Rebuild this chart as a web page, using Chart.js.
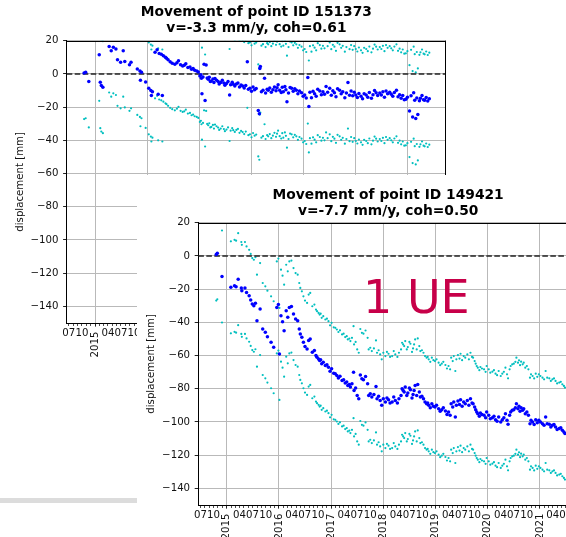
<!DOCTYPE html>
<html>
<head>
<meta charset="utf-8">
<script src="https://cdn.jsdelivr.net/npm/chart.js@4.4.1/dist/chart.umd.min.js"></script>
<style>
  html, body { margin: 0; padding: 0; background: #fff; }
  body { width: 566px; height: 537px; overflow: hidden; position: relative; }
  #box1 { position: absolute; left: 0; top: 0; width: 512px; height: 362px; }
  #scroll1 { position: absolute; left: 0; top: 498px; width: 137px; height: 5px; background: #dcdcdc; }
  #box2 { position: absolute; left: 137px; top: 175px; width: 460px; height: 362px; background: #fff; }
</style>
</head>
<body>
<div id="box1"><canvas id="chart1" width="512" height="362"></canvas></div>
<div id="scroll1"></div>
<div id="box2"><canvas id="chart2" width="460" height="362"></canvas></div>
<script>
/* Two InSAR displacement plots, the second one pasted over the first */

// --- point 151373 ---
const dates1 = [
  2014.79, 2014.82, 2014.88, 2015.08, 2015.10, 2015.12, 2015.15, 2015.27, 2015.31, 2015.35,
  2015.40, 2015.43, 2015.49, 2015.54, 2015.57, 2015.66, 2015.69, 2015.81, 2015.86, 2015.87,
  2015.89, 2015.97, 2016.03, 2016.07, 2016.08, 2016.10, 2016.15, 2016.19, 2016.21, 2016.23,
  2016.27, 2016.29, 2016.31, 2016.35, 2016.37, 2016.40, 2016.44, 2016.48, 2016.53, 2016.57,
  2016.60, 2016.64, 2016.68, 2016.71, 2016.74, 2016.78, 2016.82, 2016.85, 2016.88, 2016.91,
  2016.95, 2016.98, 2017.01, 2017.03, 2017.04, 2017.05, 2017.07, 2017.09, 2017.11, 2017.13,
  2017.15, 2017.17, 2017.19, 2017.21, 2017.23, 2017.26, 2017.28, 2017.30, 2017.33, 2017.36,
  2017.38, 2017.41, 2017.44, 2017.47, 2017.49, 2017.52, 2017.55, 2017.58, 2017.60, 2017.63,
  2017.65, 2017.68, 2017.71, 2017.74, 2017.77, 2017.80, 2017.83, 2017.86, 2017.89, 2017.92,
  2017.94, 2017.97, 2018.00, 2018.03, 2018.06, 2018.09, 2018.13, 2018.15, 2018.16, 2018.17,
  2018.19, 2018.22, 2018.25, 2018.27, 2018.30, 2018.32, 2018.35, 2018.38, 2018.41, 2018.44,
  2018.47, 2018.49, 2018.51, 2018.54, 2018.57, 2018.59, 2018.61, 2018.64, 2018.66, 2018.68,
  2018.71, 2018.74, 2018.77, 2018.80, 2018.83, 2018.86, 2018.89, 2018.92, 2018.96, 2018.99,
  2019.02, 2019.05, 2019.08, 2019.10, 2019.12, 2019.15, 2019.18, 2019.21, 2019.24, 2019.27,
  2019.31, 2019.34, 2019.37, 2019.40, 2019.43, 2019.46, 2019.50, 2019.53, 2019.56, 2019.59,
  2019.62, 2019.65, 2019.69, 2019.72, 2019.75, 2019.79, 2019.82, 2019.85, 2019.88, 2019.91,
  2019.94, 2019.97, 2020.00, 2020.03, 2020.06, 2020.10, 2020.13, 2020.16, 2020.20, 2020.23,
  2020.26, 2020.30, 2020.33, 2020.36, 2020.39, 2020.42, 2020.46, 2020.49, 2020.52, 2020.55,
  2020.58, 2020.61, 2020.65, 2020.68, 2020.71, 2020.74, 2020.78, 2020.81, 2020.84, 2020.87,
  2020.90, 2020.93, 2020.96, 2020.99, 2021.03, 2021.06, 2021.09, 2021.11, 2021.13, 2021.15,
  2021.17, 2021.19, 2021.22, 2021.24, 2021.27, 2021.30, 2021.32, 2021.35, 2021.38, 2021.41
];
const disp1 = [
  0.5, 1.0, -4.5, 11.5, -5.0, -7.0, -8.0, 16.5, 14.0, 16.0,
  15.0, 8.5, 7.0, 14.0, 7.5, 5.5, 7.0, 3.0, 1.8, -3.8,
  1.0, -4.8, -8.7, -10.0, -13.0, -10.7, 13.0, 14.5, -12.3, 12.3,
  11.8, -13.0, 11.0, 10.0, 9.5, 8.5, 7.3, 6.5, 5.8, 6.8,
  7.9, 5.5, 4.8, 5.2, 6.2, 3.8, 4.2, 2.8, 3.2, 2.2,
  1.8, 1.2, -1.2, -0.5, -2.6, -11.9, -1.8, 5.8, -16.0, 5.4,
  -2.4, -3.2, -2.0, -4.5, -4.2, -3.0, -5.2, -2.8, -3.8, -4.6,
  -6.0, -5.2, -3.8, -5.5, -6.8, -5.8, -4.5, -12.7, -6.5, -5.0,
  -6.2, -7.2, -6.0, -5.4, -7.8, -6.6, -7.3, -8.5, -7.0, 7.3,
  -9.2, -8.7, -10.5, -7.9, -9.5, -8.8, -22.0, -24.0, 3.2, 4.4,
  -10.7, -9.8, -2.6, -11.5, -9.2, -9.9, -8.5, -11.0, -9.5, -7.8,
  -10.2, -8.3, -6.5, -9.8, -11.2, -8.0, -10.7, -7.5, -9.6, -16.7,
  -11.5, -8.2, -8.7, -10.5, -9.0, -9.9, -12.0, -10.3, -11.3, -13.5,
  -12.7, -14.5, -2.2, -19.6, -11.0, -14.3, -10.5, -11.9, -13.5, -9.2,
  -10.3, -12.5, -10.8, -12.3, -7.5, -11.0, -8.7, -12.8, -10.2, -11.3,
  -13.8, -9.0, -9.9, -12.0, -10.8, -14.3, -11.5, -5.2, -12.8, -10.3,
  -13.2, -11.0, -12.7, -14.2, -11.8, -13.5, -15.0, -12.0, -12.7, -14.0,
  -11.2, -14.7, -12.5, -10.0, -11.3, -13.0, -11.5, -12.7, -10.8, -14.0,
  -10.3, -12.0, -11.0, -12.3, -13.5, -11.2, -9.9, -13.8, -12.5, -14.7,
  -13.0, -15.5, -15.3, -14.0, -22.4, -13.2, -26.0, -11.3, -15.8, -26.8,
  -14.5, -24.4, -16.2, -14.7, -13.0, -15.5, -15.9, -14.2, -16.3, -14.9
];
const upper1 = [
  28.2, 28.7, 23.2, 39.2, 22.7, 20.7, 19.7, 44.2, 41.7, 43.7,
  42.7, 36.2, 34.7, 41.7, 35.2, 33.2, 34.7, 30.7, 29.5, 23.9,
  28.7, 22.9, 19.0, 17.7, 14.7, 17.0, 40.7, 42.2, 15.4, 40.0,
  39.5, 14.7, 38.7, 37.7, 37.2, 36.2, 35.0, 34.2, 33.5, 34.5,
  35.6, 33.2, 32.5, 32.9, 33.9, 31.5, 31.9, 30.5, 30.9, 29.9,
  29.5, 28.9, 26.5, 27.2, 25.1, 15.8, 25.9, 33.5, 11.7, 33.1,
  25.3, 24.5, 25.7, 23.2, 23.5, 24.7, 22.5, 24.9, 23.9, 23.1,
  21.7, 22.5, 23.9, 22.2, 20.9, 21.9, 23.2, 15.0, 21.2, 22.7,
  21.5, 20.5, 21.7, 22.3, 19.9, 21.1, 20.4, 19.2, 20.7, 35.0,
  18.5, 19.0, 17.2, 19.8, 18.2, 18.9, 5.7, 3.7, 30.9, 32.1,
  17.0, 17.9, 25.1, 16.2, 18.5, 17.8, 19.2, 16.7, 18.2, 19.9,
  17.5, 19.4, 21.2, 17.9, 16.5, 19.7, 17.0, 20.2, 18.1, 11.0,
  16.2, 19.5, 19.0, 17.2, 18.7, 17.8, 15.7, 17.4, 16.4, 14.2,
  15.0, 13.2, 25.5, 8.1, 16.7, 13.4, 17.2, 15.8, 14.2, 18.5,
  17.4, 15.2, 16.9, 15.4, 20.2, 16.7, 19.0, 14.9, 17.5, 16.4,
  13.9, 18.7, 17.8, 15.7, 16.9, 13.4, 16.2, 22.5, 14.9, 17.4,
  14.5, 16.7, 15.0, 13.5, 15.9, 14.2, 12.7, 15.7, 15.0, 13.7,
  16.5, 13.0, 15.2, 17.7, 16.4, 14.7, 16.2, 15.0, 16.9, 13.7,
  17.4, 15.7, 16.7, 15.4, 14.2, 16.5, 17.8, 13.9, 15.2, 13.0,
  14.7, 12.2, 12.4, 13.7, 5.3, 14.5, 1.7, 16.4, 11.9, 0.9,
  13.2, 3.3, 11.5, 13.0, 14.7, 12.2, 11.8, 13.5, 11.4, 12.8
];
const lower1 = [
  -27.2, -26.7, -32.2, -16.2, -32.7, -34.7, -35.7, -11.2, -13.7, -11.7,
  -12.7, -19.2, -20.7, -13.7, -20.2, -22.2, -20.7, -24.7, -25.9, -31.5,
  -26.7, -32.5, -36.4, -37.7, -40.7, -38.4, -14.7, -13.2, -40.0, -15.4,
  -15.9, -40.7, -16.7, -17.7, -18.2, -19.2, -20.4, -21.2, -21.9, -20.9,
  -19.8, -22.2, -22.9, -22.5, -21.5, -23.9, -23.5, -24.9, -24.5, -25.5,
  -25.9, -26.5, -28.9, -28.2, -30.3, -39.6, -29.5, -21.9, -43.7, -22.3,
  -30.1, -30.9, -29.7, -32.2, -31.9, -30.7, -32.9, -30.5, -31.5, -32.3,
  -33.7, -32.9, -31.5, -33.2, -34.5, -33.5, -32.2, -40.4, -34.2, -32.7,
  -33.9, -34.9, -33.7, -33.1, -35.5, -34.3, -35.0, -36.2, -34.7, -20.4,
  -36.9, -36.4, -38.2, -35.6, -37.2, -36.5, -49.7, -51.7, -24.5, -23.3,
  -38.4, -37.5, -30.3, -39.2, -36.9, -37.6, -36.2, -38.7, -37.2, -35.5,
  -37.9, -36.0, -34.2, -37.5, -38.9, -35.7, -38.4, -35.2, -37.3, -44.4,
  -39.2, -35.9, -36.4, -38.2, -36.7, -37.6, -39.7, -38.0, -39.0, -41.2,
  -40.4, -42.2, -29.9, -47.3, -38.7, -42.0, -38.2, -39.6, -41.2, -36.9,
  -38.0, -40.2, -38.5, -40.0, -35.2, -38.7, -36.4, -40.5, -37.9, -39.0,
  -41.5, -36.7, -37.6, -39.7, -38.5, -42.0, -39.2, -32.9, -40.5, -38.0,
  -40.9, -38.7, -40.4, -41.9, -39.5, -41.2, -42.7, -39.7, -40.4, -41.7,
  -38.9, -42.4, -40.2, -37.7, -39.0, -40.7, -39.2, -40.4, -38.5, -41.7,
  -38.0, -39.7, -38.7, -40.0, -41.2, -38.9, -37.6, -41.5, -40.2, -42.4,
  -40.7, -43.2, -43.0, -41.7, -50.1, -40.9, -53.7, -39.0, -43.5, -54.5,
  -42.2, -52.1, -43.9, -42.4, -40.7, -43.2, -43.6, -41.9, -44.0, -42.6
];

// --- point 149421 ---
const dates2 = [
  2014.80, 2014.82, 2014.91, 2015.08, 2015.15, 2015.18, 2015.22, 2015.28, 2015.29, 2015.35,
  2015.38, 2015.43, 2015.46, 2015.49, 2015.52, 2015.55, 2015.58, 2015.64, 2015.69, 2015.74,
  2015.78, 2015.85, 2015.90, 2015.96, 2015.99, 2016.01, 2016.04, 2016.07, 2016.10, 2016.14,
  2016.17, 2016.20, 2016.24, 2016.28, 2016.32, 2016.36, 2016.39, 2016.41, 2016.44, 2016.47,
  2016.50, 2016.54, 2016.57, 2016.60, 2016.64, 2016.68, 2016.71, 2016.73, 2016.76, 2016.78,
  2016.80, 2016.82, 2016.85, 2016.89, 2016.92, 2016.95, 2016.98, 2017.01, 2017.05, 2017.08,
  2017.11, 2017.14, 2017.17, 2017.21, 2017.24, 2017.27, 2017.30, 2017.32, 2017.35, 2017.37,
  2017.40, 2017.43, 2017.44, 2017.47, 2017.50, 2017.53, 2017.56, 2017.59, 2017.62, 2017.66,
  2017.70, 2017.72, 2017.75, 2017.78, 2017.82, 2017.86, 2017.88, 2017.91, 2017.94, 2017.97,
  2018.00, 2018.04, 2018.07, 2018.10, 2018.13, 2018.17, 2018.20, 2018.23, 2018.27, 2018.30,
  2018.34, 2018.36, 2018.38, 2018.40, 2018.42, 2018.45, 2018.47, 2018.50, 2018.52, 2018.55,
  2018.57, 2018.59, 2018.61, 2018.64, 2018.66, 2018.69, 2018.71, 2018.74, 2018.77, 2018.80,
  2018.83, 2018.85, 2018.87, 2018.90, 2018.93, 2018.96, 2018.99, 2019.02, 2019.06, 2019.09,
  2019.12, 2019.15, 2019.19, 2019.22, 2019.25, 2019.28, 2019.30, 2019.33, 2019.35, 2019.38,
  2019.40, 2019.43, 2019.46, 2019.48, 2019.51, 2019.54, 2019.57, 2019.61, 2019.64, 2019.67,
  2019.70, 2019.72, 2019.75, 2019.77, 2019.79, 2019.81, 2019.84, 2019.86, 2019.89, 2019.93,
  2019.96, 2019.98, 2020.02, 2020.05, 2020.09, 2020.12, 2020.15, 2020.18, 2020.21, 2020.25,
  2020.28, 2020.31, 2020.34, 2020.37, 2020.39, 2020.42, 2020.44, 2020.47, 2020.50, 2020.53,
  2020.55, 2020.58, 2020.60, 2020.62, 2020.64, 2020.67, 2020.69, 2020.72, 2020.75, 2020.78,
  2020.81, 2020.83, 2020.86, 2020.89, 2020.92, 2020.95, 2020.98, 2021.01, 2021.05, 2021.08,
  2021.11, 2021.14, 2021.18, 2021.21, 2021.24, 2021.27, 2021.30, 2021.33, 2021.37, 2021.40,
  2021.43, 2021.46, 2021.48
];
const disp2 = [
  0.8, 1.6, -12.4, -18.9, -18.0, -18.5, -14.0, -19.3, -21.0, -19.3,
  -22.0, -24.0, -26.5, -29.0, -30.0, -28.5, -39.0, -32.0, -44.0, -46.0,
  -48.6, -52.0, -55.0, -31.0, -29.3, -59.0, -36.0, -39.6, -45.0, -33.0,
  -37.0, -31.0, -30.5, -35.0, -38.0, -39.0, -44.0, -47.0, -49.0, -52.0,
  -54.6, -56.0, -51.0, -50.0, -58.0, -57.0, -60.0, -61.0, -62.0, -63.0,
  -62.5, -65.0, -64.0, -66.0, -65.5, -67.0, -69.5, -68.0, -70.7, -71.0,
  -72.0, -73.5, -72.5, -75.0, -74.5, -76.6, -76.0, -78.0, -77.5, -79.0,
  -77.0, -70.0, -81.0, -79.5, -84.0, -86.0, -71.7, -74.0, -74.5, -72.6,
  -77.0, -84.0, -83.0, -85.0, -83.4, -78.6, -86.0, -84.5, -87.0, -90.0,
  -86.0, -88.0, -85.5, -86.6, -88.5, -88.0, -85.0, -87.0, -88.5, -86.0,
  -84.0, -80.0, -81.0, -82.0, -79.0, -84.0, -82.6, -79.5, -80.6, -85.5,
  -83.4, -81.0, -78.0, -84.0, -77.4, -82.0, -85.0, -84.5, -86.0, -88.0,
  -89.0, -88.5, -90.0, -91.5, -89.0, -90.5, -91.0, -90.0, -92.0, -93.5,
  -92.6, -91.5, -93.4, -95.5, -94.0, -96.0, -89.0, -91.0, -88.0, -97.0,
  -90.0, -87.4, -89.5, -86.6, -90.5, -88.0, -89.0, -87.0, -90.0, -86.0,
  -88.5, -89.0, -91.0, -92.6, -94.0, -95.0, -96.5, -94.6, -95.5, -96.0,
  -97.5, -94.0, -96.0, -98.0, -97.4, -96.5, -98.6, -99.5, -97.0, -100.0,
  -98.6, -97.5, -95.0, -99.0, -101.4, -96.0, -94.0, -93.0, -92.6, -91.5,
  -89.0, -92.0, -90.6, -93.5, -91.4, -93.0, -92.0, -95.0, -94.0, -96.0,
  -101.0, -99.0, -100.0, -101.5, -98.6, -100.5, -99.0, -100.0, -101.0, -102.0,
  -97.0, -101.0, -101.4, -103.0, -102.0, -101.5, -103.0, -104.5, -104.0, -103.5,
  -105.0, -106.0, -107.0
];
const upper2 = [
  28.5, 29.3, 15.3, 8.8, 9.7, 9.2, 13.7, 8.4, 6.7, 8.4,
  5.7, 3.7, 1.2, -1.3, -2.3, -0.8, -11.3, -4.3, -16.3, -18.3,
  -20.9, -24.3, -27.3, -3.3, -1.6, -31.3, -8.3, -11.9, -17.3, -5.3,
  -9.3, -3.3, -2.8, -7.3, -10.3, -11.3, -16.3, -19.3, -21.3, -24.3,
  -26.9, -28.3, -23.3, -22.3, -30.3, -29.3, -32.3, -33.3, -34.3, -35.3,
  -34.8, -37.3, -36.3, -38.3, -37.8, -39.3, -41.8, -40.3, -43.0, -43.3,
  -44.3, -45.8, -44.8, -47.3, -46.8, -48.9, -48.3, -50.3, -49.8, -51.3,
  -49.3, -42.3, -53.3, -51.8, -56.3, -58.3, -44.0, -46.3, -46.8, -44.9,
  -49.3, -56.3, -55.3, -57.3, -55.7, -50.9, -58.3, -56.8, -59.3, -62.3,
  -58.3, -60.3, -57.8, -58.9, -60.8, -60.3, -57.3, -59.3, -60.8, -58.3,
  -56.3, -52.3, -53.3, -54.3, -51.3, -56.3, -54.9, -51.8, -52.9, -57.8,
  -55.7, -53.3, -50.3, -56.3, -49.7, -54.3, -57.3, -56.8, -58.3, -60.3,
  -61.3, -60.8, -62.3, -63.8, -61.3, -62.8, -63.3, -62.3, -64.3, -65.8,
  -64.9, -63.8, -65.7, -67.8, -66.3, -68.3, -61.3, -63.3, -60.3, -69.3,
  -62.3, -59.7, -61.8, -58.9, -62.8, -60.3, -61.3, -59.3, -62.3, -58.3,
  -60.8, -61.3, -63.3, -64.9, -66.3, -67.3, -68.8, -66.9, -67.8, -68.3,
  -69.8, -66.3, -68.3, -70.3, -69.7, -68.8, -70.9, -71.8, -69.3, -72.3,
  -70.9, -69.8, -67.3, -71.3, -73.7, -68.3, -66.3, -65.3, -64.9, -63.8,
  -61.3, -64.3, -62.9, -65.8, -63.7, -65.3, -64.3, -67.3, -66.3, -68.3,
  -73.3, -71.3, -72.3, -73.8, -70.9, -72.8, -71.3, -72.3, -73.3, -74.3,
  -69.3, -73.3, -73.7, -75.3, -74.3, -73.8, -75.3, -76.8, -76.3, -75.8,
  -77.3, -78.3, -79.3
];
const lower2 = [
  -26.9, -26.1, -40.1, -46.6, -45.7, -46.2, -41.7, -47.0, -48.7, -47.0,
  -49.7, -51.7, -54.2, -56.7, -57.7, -56.2, -66.7, -59.7, -71.7, -73.7,
  -76.3, -79.7, -82.7, -58.7, -57.0, -86.7, -63.7, -67.3, -72.7, -60.7,
  -64.7, -58.7, -58.2, -62.7, -65.7, -66.7, -71.7, -74.7, -76.7, -79.7,
  -82.3, -83.7, -78.7, -77.7, -85.7, -84.7, -87.7, -88.7, -89.7, -90.7,
  -90.2, -92.7, -91.7, -93.7, -93.2, -94.7, -97.2, -95.7, -98.4, -98.7,
  -99.7, -101.2, -100.2, -102.7, -102.2, -104.3, -103.7, -105.7, -105.2, -106.7,
  -104.7, -97.7, -108.7, -107.2, -111.7, -113.7, -99.4, -101.7, -102.2, -100.3,
  -104.7, -111.7, -110.7, -112.7, -111.1, -106.3, -113.7, -112.2, -114.7, -117.7,
  -113.7, -115.7, -113.2, -114.3, -116.2, -115.7, -112.7, -114.7, -116.2, -113.7,
  -111.7, -107.7, -108.7, -109.7, -106.7, -111.7, -110.3, -107.2, -108.3, -113.2,
  -111.1, -108.7, -105.7, -111.7, -105.1, -109.7, -112.7, -112.2, -113.7, -115.7,
  -116.7, -116.2, -117.7, -119.2, -116.7, -118.2, -118.7, -117.7, -119.7, -121.2,
  -120.3, -119.2, -121.1, -123.2, -121.7, -123.7, -116.7, -118.7, -115.7, -124.7,
  -117.7, -115.1, -117.2, -114.3, -118.2, -115.7, -116.7, -114.7, -117.7, -113.7,
  -116.2, -116.7, -118.7, -120.3, -121.7, -122.7, -124.2, -122.3, -123.2, -123.7,
  -125.2, -121.7, -123.7, -125.7, -125.1, -124.2, -126.3, -127.2, -124.7, -127.7,
  -126.3, -125.2, -122.7, -126.7, -129.1, -123.7, -121.7, -120.7, -120.3, -119.2,
  -116.7, -119.7, -118.3, -121.2, -119.1, -120.7, -119.7, -122.7, -121.7, -123.7,
  -128.7, -126.7, -127.7, -129.2, -126.3, -128.2, -126.7, -127.7, -128.7, -129.7,
  -124.7, -128.7, -129.1, -130.7, -129.7, -129.2, -130.7, -132.2, -131.7, -131.2,
  -132.7, -133.7, -134.7
];

// --- axes ---
const Y_TICKS = [-140, -120, -100, -80, -60, -40, -20, 0, 20];
const YEARS = [2015, 2016, 2017, 2018, 2019, 2020, 2021];
const MONTH_LABELS = ['', '', '', '04', '', '', '07', '', '', '10', '', ''];
const MONTH_DAY = [0, 31, 59, 90, 120, 151, 181, 212, 243, 273, 304, 334];
const X_MIN = 2014.456, X_MAX = 2021.73;
const Y_MIN = -150, Y_MAX = 20;

const GRID = '#b9b9b9';
const BLUE = '#0000ff';
const CYAN = '#00bfbf';

Chart.defaults.font.family = "'DejaVu Sans', sans-serif";
Chart.defaults.color = '#000';

// minor ticks: first of every month, labels only on Apr/Jul/Oct
const monthVals = [], monthLabs = [];
for (let y = 2014; y <= 2021; y++) {
    MONTH_DAY.forEach((d, m) => {
        const v = y + d / 365;
        if (v >= X_MIN && v <= X_MAX) { monthVals.push(v); monthLabs.push(MONTH_LABELS[m]); }
    });
}

function fmtY(v) {
    return v < 0 ? '\u2212' + Math.abs(v) : String(v);
}

function pts(dates, vals) {
    return dates.map((t, i) => ({ x: t, y: vals[i] }));
}

function makeScales(yWidth, yTitlePad) {
    return {
        x: {
            type: 'linear', min: X_MIN, max: X_MAX,
            position: { y: Y_MIN },
            afterBuildTicks: s => { s.ticks = monthVals.map(v => ({ value: v })); },
            ticks: {
                autoSkip: false, minRotation: 0, maxRotation: 0, padding: 2.4,
                font: { size: 10.2 }, color: '#111',
                callback: (v, i) => monthLabs[i]
            },
            grid: { color: 'rgba(0,0,0,0)', tickColor: '#222', tickLength: 2, tickWidth: 0.8 },
            border: { display: true, color: '#000', width: 1 }
        },
        x2: {
            type: 'linear', axis: 'x', min: X_MIN, max: X_MAX,
            position: { y: Y_MIN },
            afterBuildTicks: s => { s.ticks = YEARS.map(v => ({ value: v })); },
            ticks: {
                autoSkip: false, minRotation: 90, maxRotation: 90, padding: 4.9,
                font: { size: 10.2 }, color: '#111',
                callback: v => String(v)
            },
            grid: { color: GRID, lineWidth: 1, tickColor: '#222', tickLength: 3.6, tickWidth: 1 },
            border: { display: false }
        },
        y: {
            min: Y_MIN, max: Y_MAX,
            afterBuildTicks: s => { s.ticks = Y_TICKS.map(v => ({ value: v })); },
            afterFit: s => { s.width = yWidth; },
            ticks: { padding: 4.6, font: { size: 10.2 }, color: '#111', callback: fmtY },
            grid: { color: GRID, lineWidth: 1, tickColor: '#222', tickLength: 3.6, tickWidth: 1 },
            border: { color: '#000', width: 1 },
            title: {
                display: true, text: 'displacement [mm]', color: '#111',
                font: { size: 10.2 }, padding: { top: yTitlePad, bottom: 0 }
            }
        }
    };
}

function makeDatasets(dates, disp, upper, lower) {
    return [
        { label: 'displacement', data: pts(dates, disp), pointRadius: 1.75, pointBackgroundColor: BLUE, pointBorderWidth: 0 },
        {
            type: 'line', label: 'zero', data: [{ x: X_MIN, y: 0 }, { x: X_MAX, y: 0 }],
            borderColor: '#222', borderWidth: 1.4, borderDash: [5.6, 2.4], pointRadius: 0, fill: false
        },
        { label: 'upper', data: pts(dates, upper), pointRadius: 1.1, pointBackgroundColor: CYAN, pointBorderWidth: 0 },
        { label: 'lower', data: pts(dates, lower), pointRadius: 1.1, pointBackgroundColor: CYAN, pointBorderWidth: 0 }
    ];
}

// top and right spines
const framePlugin = {
    id: 'frame',
    afterDatasetsDraw(chart) {
        const { ctx, chartArea: a } = chart;
        ctx.save();
        ctx.strokeStyle = '#000';
        ctx.lineWidth = 1;
        ctx.beginPath();
        ctx.moveTo(a.left, Math.round(a.top) + 0.5);
        ctx.lineTo(a.right, Math.round(a.top) + 0.5);
        ctx.moveTo(Math.round(a.right) - 0.5, a.top);
        ctx.lineTo(Math.round(a.right) - 0.5, a.bottom);
        ctx.stroke();
        ctx.restore();
    }
};

// "1 UE" stamp on the second plot
const stampPlugin = {
    id: 'stamp',
    afterDatasetsDraw(chart) {
        const ctx = chart.ctx;
        ctx.save();
        ctx.font = "46px 'DejaVu Sans'";
        ctx.fillStyle = '#c70049';
        ctx.textBaseline = 'alphabetic';
        ctx.fillText('1 UE', 226, 138);
        ctx.restore();
    }
};

function makeOptions(title, yWidth, yTitlePad, titlePad, padding) {
    return {
        responsive: false,
        animation: false,
        events: [],
        layout: { padding },
        plugins: {
            legend: { display: false },
            tooltip: { enabled: false },
            title: {
                display: true, fullSize: false, text: title, color: '#000',
                font: { size: 13.8, weight: 'bold', lineHeight: 1.16 },
                padding: titlePad
            }
        },
        scales: makeScales(yWidth, yTitlePad)
    };
}

new Chart(document.getElementById('chart1'), {
    type: 'scatter',
    data: { datasets: makeDatasets(dates1, disp1, upper1, lower1) },
    options: makeOptions(['Movement of point ID 151373', 'v=-3.3 mm/y, coh=0.61'],
        66.7, 13.9, { top: 4.3, bottom: 4.4 }, { left: 0, top: 0, right: 66, bottom: 39 }),
    plugins: [framePlugin]
});

new Chart(document.getElementById('chart2'), {
    type: 'scatter',
    data: { datasets: makeDatasets(dates2, disp2, upper2, lower2) },
    options: makeOptions(['Movement of point ID 149421', 'v=-7.7 mm/y, coh=0.50'],
        61.3, 8.2, { top: 12, bottom: 3.7 }, { left: 0, top: 0, right: 19, bottom: 32 }),
    plugins: [framePlugin, stampPlugin]
});
</script>
</body>
</html>
